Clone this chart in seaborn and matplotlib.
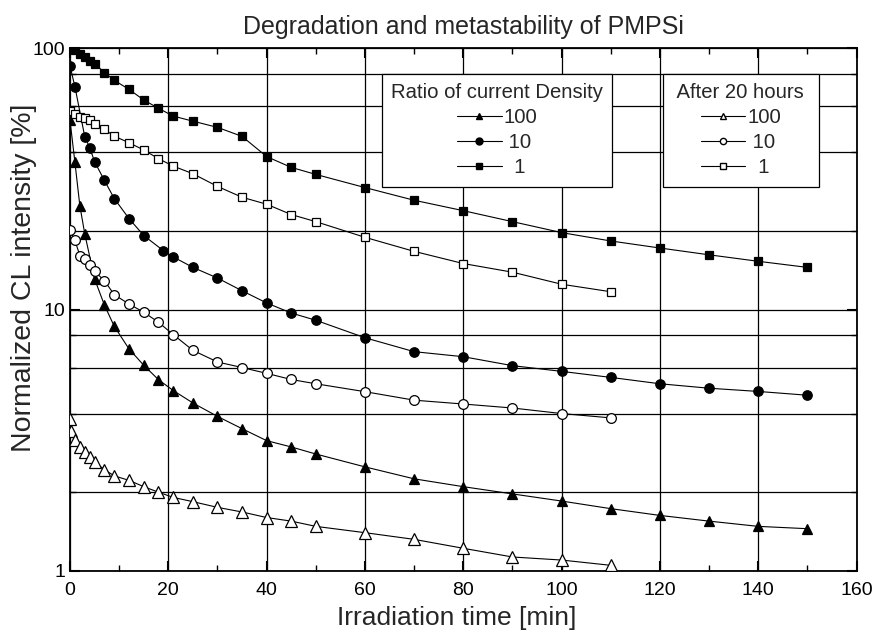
import numpy as np
import pandas as pd
import matplotlib.pyplot as plt
import seaborn as sns
from matplotlib.lines import Line2D
from matplotlib.ticker import FixedLocator, MultipleLocator, NullFormatter

# veriler (okunan degerler)
t_late_150 = [30, 35, 40, 45, 50, 60, 70, 80, 90, 100, 110, 120, 130, 140, 150]
t_late_110 = [30, 35, 40, 45, 50, 60, 70, 80, 90, 100, 110]

# oran 1 (dolu kare)
t_sq = [0, 1, 2, 3, 4, 5, 7, 9, 12, 15, 18, 21, 25] + t_late_150
v_sq = [99.1, 98.3, 95.4, 92.6, 89.4, 87.4, 80.7, 75.4, 69.6, 63.4, 58.9, 55.0, 52.6,
        49.8, 46.0, 38.5, 35.0, 32.9, 29.3, 26.2, 23.9, 21.7, 19.7, 18.3, 17.2, 16.2, 15.3, 14.5]

# oran 10 (dolu daire)
t_ci = [0, 1, 3, 4, 5, 7, 9, 12, 15, 19, 21, 25] + t_late_150
v_ci = [85.5, 71.3, 45.9, 41.7, 36.8, 31.2, 26.6, 22.3, 19.2, 16.8, 15.9, 14.5,
        13.2, 11.8, 10.6, 9.7, 9.1, 7.8, 6.9, 6.6, 6.1, 5.8, 5.5, 5.2, 5.0, 4.86, 4.7]

# oran 100 (dolu ucgen)
t_tr = [0, 1, 2, 3, 5, 7, 9, 12, 15, 18, 21, 25] + t_late_150
v_tr = [53.0, 36.6, 25.0, 19.5, 13.1, 10.4, 8.63, 7.07, 6.12, 5.39, 4.9, 4.39,
        3.9, 3.5, 3.15, 2.98, 2.8, 2.5, 2.25, 2.1, 1.97, 1.85, 1.73, 1.63, 1.55, 1.48, 1.45]

# 20 saat sonra
t_sq20 = [0, 1, 2, 3, 4, 5, 7, 9, 12, 15, 18, 21, 25] + t_late_110
v_sq20 = [57.5, 55.9, 54.7, 53.9, 53.1, 51.4, 48.9, 46.1, 43.5, 40.8, 37.8, 35.4, 33.1,
          29.6, 26.9, 25.3, 23.1, 21.7, 18.9, 16.7, 15.0, 13.9, 12.5, 11.7]

t_ci20 = [0, 1, 2, 3, 4, 5, 7, 9, 12, 15, 18, 21, 25] + t_late_110
v_ci20 = [20.1, 18.4, 16.1, 15.6, 14.8, 14.0, 12.9, 11.4, 10.5, 9.77, 8.94, 8.02, 6.98,
          6.3, 6.0, 5.7, 5.4, 5.2, 4.85, 4.5, 4.35, 4.2, 4.0, 3.85]

t_tr20 = [0, 0.3, 1, 2, 3, 4, 5, 7, 9, 12, 15, 18, 21, 25] + t_late_110
v_tr20 = [3.8, 3.42, 3.16, 2.98, 2.86, 2.73, 2.61, 2.44, 2.31, 2.22, 2.10, 2.0, 1.91, 1.84,
          1.75, 1.68, 1.6, 1.55, 1.48, 1.4, 1.32, 1.22, 1.13, 1.1, 1.05]

sns.set_style("ticks")
plt.rcParams['font.family'] = ['Liberation Sans', 'DejaVu Sans']

fig = plt.figure(figsize=(8.75, 6.35), dpi=100)
ax = fig.add_axes([0.080, 0.101, 0.899, 0.823])

# seriler: (t, v, marker, dolu mu, boyut)
seriler = [
    (t_sq, v_sq, 's', True, 6.3),
    (t_ci, v_ci, 'o', True, 6.8),
    (t_tr, v_tr, '^', True, 7.5),
    (t_sq20, v_sq20, 's', False, 6),
    (t_ci20, v_ci20, 'o', False, 7),
    (t_tr20, v_tr20, '^', False, 8),
]
for t, v, m, dolu, ms in seriler:
    df = pd.DataFrame({'t': t, 'v': v})
    sns.lineplot(data=df, x='t', y='v', ax=ax, color='black', linewidth=0.8,
                 marker=m, markersize=ms, markerfacecolor='black' if dolu else 'white',
                 markeredgecolor='black', markeredgewidth=0.9, sort=False,
                 legend=False, zorder=3)

ax.set_yscale('log')
ax.set_ylim(1, 100)
ax.set_xlim(0, 160)

ax.yaxis.set_major_locator(FixedLocator([1, 10, 100]))
ax.set_yticklabels(['1', '10', '100'])
ax.yaxis.set_minor_locator(FixedLocator([2, 4, 6, 8, 20, 40, 60, 80]))
ax.yaxis.set_minor_formatter(NullFormatter())
ax.xaxis.set_major_locator(MultipleLocator(20))
ax.xaxis.set_minor_locator(MultipleLocator(10))

ax.grid(True, which='major', axis='x', color='black', linewidth=0.9)
ax.grid(True, which='both', axis='y', color='black', linewidth=0.9)
ax.set_axisbelow(True)

ax.tick_params(which='both', direction='in', top=True, right=True, colors='black',
               labelsize=14)
ax.tick_params(axis='x', pad=8)
ax.tick_params(which='major', length=7, width=1.5)
ax.tick_params(which='minor', length=4, width=1.0)
for s in ax.spines.values():
    s.set_color('black')
    s.set_linewidth(1.3)

ax.set_xlabel('Irradiation time [min]', fontsize=19)
ax.xaxis.set_label_coords(0.492, -0.068)
ax.set_ylabel('Normalized CL intensity [%]', fontsize=20.5)
ax.yaxis.set_label_coords(-0.042, 0.56)
ax.set_title('Degradation and metastability of PMPSi', fontsize=18, pad=10)

# lejantlar
def handle(m, dolu, ms):
    return Line2D([], [], color='black', linewidth=0.8, marker=m, markersize=ms,
                  markerfacecolor='black' if dolu else 'white', markeredgecolor='black')

labels = ['100', ' 10', '  1']
ortak = dict(loc='upper left', fontsize=14.6, title_fontsize=14.6, frameon=True,
             fancybox=False, edgecolor='black', framealpha=1, handlelength=2.2,
             handletextpad=0.08, labelspacing=0.3, borderpad=0.45, borderaxespad=0)
leg1 = fig.legend([handle('^', True, 5), handle('o', True, 5), handle('s', True, 4.5)], labels,
                  title='Ratio of current Density',
                  bbox_to_anchor=(382 / 875, 1 - 74 / 635), **ortak)
leg1.get_frame().set_linewidth(0.9)
leg2 = fig.legend([handle('^', False, 4.5), handle('o', False, 4.5), handle('s', False, 4)], labels,
                  title=' After 20 hours ',
                  bbox_to_anchor=(663 / 875, 1 - 74 / 635), **ortak)
leg2.get_frame().set_linewidth(0.9)

fig.savefig('out.png', dpi=100)
